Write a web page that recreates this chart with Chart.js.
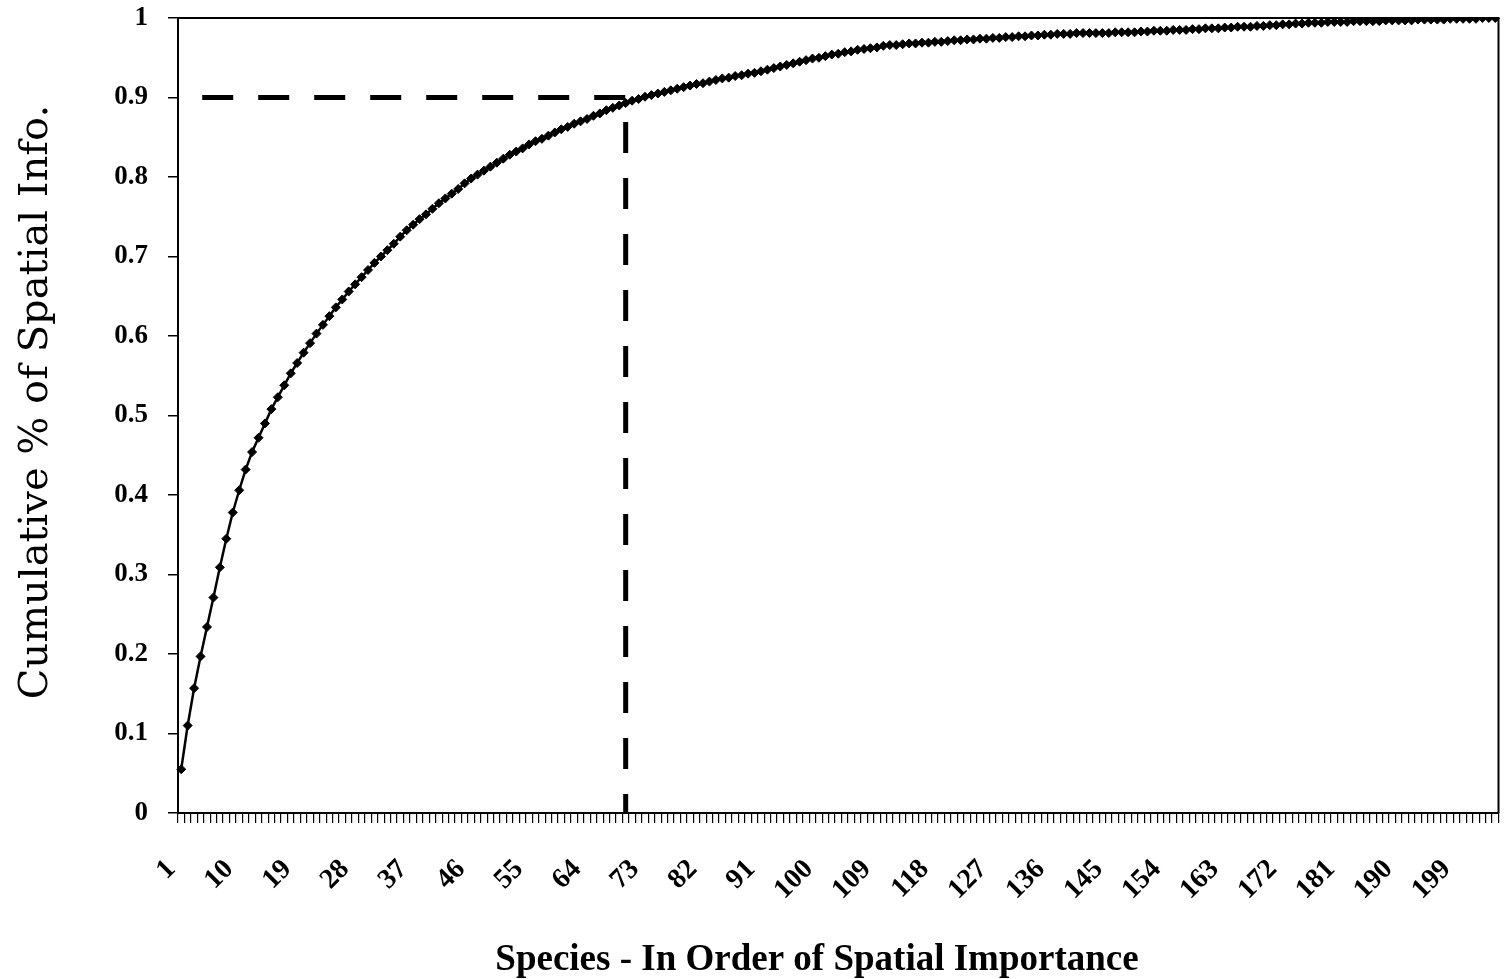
<!DOCTYPE html>
<html>
<head>
<meta charset="utf-8">
<title>Cumulative % of Spatial Info.</title>
<script src="https://cdn.jsdelivr.net/npm/chart.js@4.4.1/dist/chart.umd.min.js"></script>
<style>
  html, body { margin: 0; padding: 0; background: #fff; }
  #wrap { width: 1504px; height: 979px; }
</style>
</head>
<body>
<div id="wrap"><canvas id="chart" width="1504" height="979"></canvas></div>
<script>
// species 1..205, ranked by spatial importance
const species = Array.from({ length: 205 }, (_, i) => String(i + 1));

// labels Excel printed under the axis (every 9th species)
const shownTicks = ["1", "10", "19", "28", "37", "46", "55", "64", "73", "82", "91", "100",
    "109", "118", "127", "136", "145", "154", "163", "172", "181", "190", "199"];

// cumulative share of spatial info
const cumulativeShare = [
    0.055, 0.110, 0.157, 0.197, 0.234, 0.271, 0.309, 0.345, 0.378, 0.406,
    0.432, 0.454, 0.472, 0.490, 0.508, 0.523, 0.538, 0.553, 0.566, 0.579,
    0.591, 0.603, 0.614, 0.625, 0.636, 0.646, 0.656, 0.665, 0.674, 0.683,
    0.692, 0.700, 0.708, 0.716, 0.725, 0.733, 0.740, 0.747, 0.753, 0.760,
    0.767, 0.773, 0.779, 0.785, 0.792, 0.798, 0.803, 0.808, 0.813, 0.818,
    0.823, 0.828, 0.832, 0.836, 0.841, 0.845, 0.848, 0.852, 0.856, 0.860,
    0.863, 0.867, 0.870, 0.873, 0.877, 0.880, 0.884, 0.887, 0.890, 0.893,
    0.896, 0.898, 0.901, 0.903, 0.905, 0.907, 0.909, 0.911, 0.913, 0.915,
    0.917, 0.918, 0.920, 0.922, 0.924, 0.925, 0.927, 0.928, 0.930, 0.931,
    0.933, 0.935, 0.937, 0.939, 0.941, 0.943, 0.945, 0.947, 0.949, 0.950,
    0.952, 0.954, 0.955, 0.957, 0.958, 0.960, 0.961, 0.962, 0.963, 0.965,
    0.966, 0.966, 0.967, 0.968, 0.968, 0.969, 0.969, 0.970, 0.970, 0.971,
    0.972, 0.972, 0.973, 0.973, 0.974, 0.974, 0.975, 0.975, 0.976, 0.976,
    0.977, 0.977, 0.978, 0.978, 0.979, 0.979, 0.980, 0.980, 0.980, 0.981,
    0.981, 0.981, 0.981, 0.981, 0.981, 0.982, 0.982, 0.982, 0.982, 0.983,
    0.983, 0.984, 0.984, 0.984, 0.985, 0.985, 0.985, 0.986, 0.986, 0.987,
    0.987, 0.987, 0.988, 0.988, 0.989, 0.989, 0.989, 0.990, 0.990, 0.991,
    0.991, 0.992, 0.992, 0.993, 0.993, 0.994, 0.994, 0.994, 0.995, 0.995,
    0.995, 0.995, 0.996, 0.996, 0.996, 0.996, 0.996, 0.997, 0.997, 0.997,
    0.997, 0.997, 0.998, 0.998, 0.998, 0.998, 0.998, 0.999, 0.999, 0.999,
    0.999, 0.999, 1.000, 1.000, 1.000,
];

// the 90% cut-off drawn over the chart
const cutoffX = ["1", "70", "70"];
const cutoffY = [0.9, 0.9, 0];

const serif = "'Liberation Serif', 'Times New Roman', serif";

// top/right frame of the plot box plus the two axis titles
const frame = {
    id: "frame",
    afterDraw(chart) {
        const { ctx, chartArea: a } = chart;
        ctx.save();
        ctx.strokeStyle = "#000";
        ctx.lineWidth = 2;
        ctx.beginPath();
        ctx.moveTo(a.left, a.top);
        ctx.lineTo(a.right, a.top);
        ctx.lineTo(a.right, a.bottom);
        ctx.stroke();

        ctx.fillStyle = "#000";
        ctx.textAlign = "center";
        ctx.textBaseline = "alphabetic";
        ctx.font = "bold 37px " + serif;
        ctx.fillText("Species - In Order of Spatial Importance", 817, 970);

        ctx.translate(47, 402);
        ctx.rotate(-Math.PI / 2);
        ctx.font = "40px 'DejaVu Serif', serif";
        ctx.fillText("Cumulative % of Spatial Info.", 0, 0);
        ctx.restore();
    },
};

new Chart(document.getElementById("chart"), {
    type: "line",
    data: {
        labels: species,
        datasets: [
            {
                data: cutoffX.map((x, k) => ({ x, y: cutoffY[k] })),
                borderColor: "#000",
                borderWidth: 5,
                borderDash: [31, 25],
                borderDashOffset: 35,
                pointRadius: 0,
                fill: false,
                tension: 0,
                order: 2,
            },
            {
                data: cumulativeShare,
                borderColor: "#000",
                borderWidth: 2.5,
                pointStyle: "rectRot",
                pointRadius: 4.5,
                pointBackgroundColor: "#000",
                pointBorderColor: "#000",
                pointBorderWidth: 1,
                fill: false,
                tension: 0,
                order: 1,
            },
        ],
    },
    options: {
        responsive: false,
        animation: false,
        layout: { padding: { top: 18, right: 4, left: 0, bottom: 0 } },
        plugins: {
            legend: { display: false },
            tooltip: { enabled: false },
        },
        scales: {
            x: {
                type: "category",
                offset: true,
                border: { display: true, color: "#000", width: 2 },
                grid: {
                    display: true,
                    drawOnChartArea: false,
                    offset: true,
                    tickLength: 10,
                    color: "#000",
                    lineWidth: 1.2,
                },
                ticks: {
                    autoSkip: false,
                    minRotation: 45,
                    maxRotation: 45,
                    padding: 30,
                    labelOffset: -10,
                    color: "#000",
                    font: { family: serif, size: 28, weight: "bold" },
                    callback: function (value) {
                        const label = this.getLabelForValue(value);
                        return shownTicks.includes(label) ? label : "";
                    },
                },
                afterFit(scale) {
                    scale.height = 166;
                    scale.paddingLeft = 0;
                    scale.paddingRight = 0;
                },
            },
            y: {
                min: 0,
                max: 1,
                border: { display: true, color: "#000", width: 2 },
                grid: {
                    display: true,
                    drawOnChartArea: false,
                    tickLength: 10,
                    color: "#000",
                    lineWidth: 1.5,
                },
                ticks: {
                    stepSize: 0.1,
                    padding: 20,
                    color: "#000",
                    font: { family: serif, size: 27, weight: "bold" },
                    callback: (v) => String(Math.round(v * 10) / 10),
                },
                afterFit(scale) {
                    scale.width = 178;
                    scale.paddingTop = 0;
                    scale.paddingBottom = 0;
                },
            },
        },
    },
    plugins: [frame],
});
</script>
</body>
</html>
